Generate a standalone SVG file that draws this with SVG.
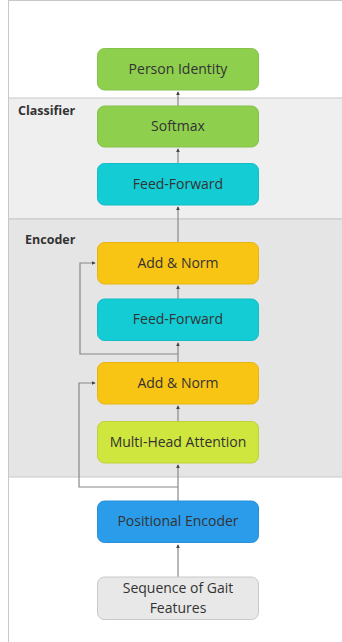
<svg xmlns="http://www.w3.org/2000/svg" width="342" height="642" viewBox="0 0 342 642">
<style>
.n rect{stroke-width:1}
.n text{font-family:"Open Sans","Noto Sans",sans-serif;font-size:14px;fill:#333;text-anchor:middle}
.lbl{font-family:"Open Sans","Noto Sans",sans-serif;font-size:12.5px;font-weight:bold;fill:#333}
.c{fill:none;stroke:#888;stroke-width:1.2}
</style>
<defs>
<marker id="ah" viewBox="0 0 6 6" refX="5" refY="3" markerWidth="4" markerHeight="4" orient="auto" markerUnits="userSpaceOnUse">
<path d="M0,0 L6,3 L0,6 z" fill="#444"/>
</marker>
</defs>
<rect x="0" y="0" width="342" height="642" fill="#fff"/>
<g id="bands">
<rect x="8.5" y="98" width="334" height="121" fill="#efefef" stroke="#c8c8c8"/>
<rect x="8.5" y="219" width="334" height="258" fill="#e5e5e5" stroke="#c8c8c8"/>
<line x1="8.5" y1="0" x2="8.5" y2="642" stroke="#c8c8c8"/>
<line x1="8" y1="0.5" x2="342" y2="0.5" stroke="#c8c8c8"/>
<text class="lbl" x="18" y="115">Classifier</text>
<text class="lbl" x="25" y="244">Encoder</text>
</g>
<g id="connectors">
<path class="c" d="M178,577 V545" marker-end="url(#ah)"/>
<path class="c" d="M178,501 V465" marker-end="url(#ah)"/>
<path class="c" d="M178,487 H79 V383 H95" marker-end="url(#ah)"/>
<path class="c" d="M178,421 V406" marker-end="url(#ah)"/>
<path class="c" d="M178,362 V343" marker-end="url(#ah)"/>
<path class="c" d="M178,354 H80 V263 H95" marker-end="url(#ah)"/>
<path class="c" d="M178,299 V286" marker-end="url(#ah)"/>
<path class="c" d="M178,242 V207" marker-end="url(#ah)"/>
<path class="c" d="M178,163 V149" marker-end="url(#ah)"/>
<path class="c" d="M178,106 V92" marker-end="url(#ah)"/>
</g>
<g id="person" class="n"><rect x="97.5" y="48.5" width="161" height="41.5" rx="7" fill="#8ecf4e" stroke="#86c24a"/><text x="178" y="73.5">Person Identity</text></g>
<g id="softmax" class="n"><rect x="97.5" y="106" width="161" height="41" rx="7" fill="#8ecf4e" stroke="#86c24a"/><text x="178" y="131">Softmax</text></g>
<g id="ff1" class="n"><rect x="97.5" y="163.5" width="161" height="41.5" rx="7" fill="#13ccd4" stroke="#12bdc4"/><text x="178" y="188.5">Feed-Forward</text></g>
<g id="addnorm2" class="n"><rect x="97.5" y="242.5" width="161" height="41.5" rx="7" fill="#f8c514" stroke="#e6b512"/><text x="178" y="267.5">Add &amp; Norm</text></g>
<g id="ff2" class="n"><rect x="97.5" y="299" width="161" height="41.5" rx="7" fill="#13ccd4" stroke="#12bdc4"/><text x="178" y="324">Feed-Forward</text></g>
<g id="addnorm1" class="n"><rect x="97.5" y="362.5" width="161" height="41.5" rx="7" fill="#f8c514" stroke="#e6b512"/><text x="178" y="387.5">Add &amp; Norm</text></g>
<g id="mha" class="n"><rect x="97.5" y="421.5" width="161" height="41.5" rx="7" fill="#cfe63e" stroke="#bcd13a"/><text x="178" y="446.5">Multi-Head Attention</text></g>
<g id="pos" class="n"><rect x="97.5" y="501" width="161" height="41.5" rx="7" fill="#2b9cea" stroke="#2890d8"/><text x="178" y="526">Positional Encoder</text></g>
<g id="seq" class="n"><rect x="97.5" y="577" width="161" height="42.5" rx="7" fill="#e8e8e8" stroke="#c8c8c8"/><text x="178" y="593">Sequence of Gait</text><text x="178" y="613">Features</text></g>
</svg>
